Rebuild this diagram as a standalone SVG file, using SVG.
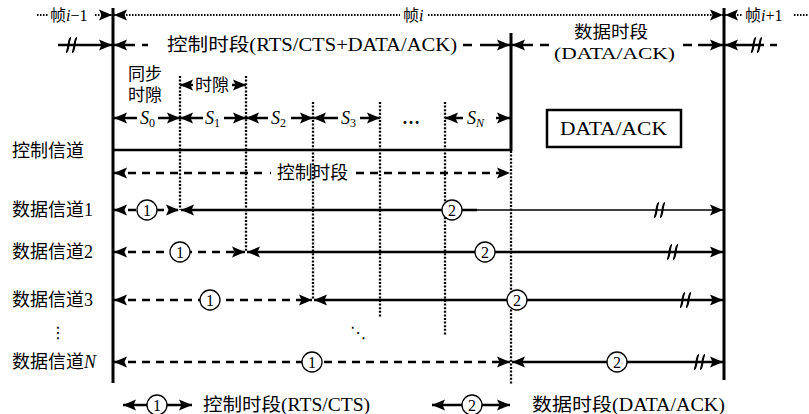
<svg xmlns="http://www.w3.org/2000/svg" width="809" height="414" viewBox="0 0 809 414">
<style>
.t{font-family:"Liberation Serif","Noto Sans CJK SC",serif;font-size:18px;fill:#000}
.s16{font-size:16px}
.s17{font-size:17px}
.it{font-style:italic}
.sub{font-size:12px}
.th{stroke:#000;stroke-width:2.5;fill:none}
.tn{stroke:#000;stroke-width:1.5;fill:none}
.da{stroke:#000;stroke-width:2.5;stroke-dasharray:8 6;fill:none}
.dot{stroke:#000;stroke-width:2.3;stroke-dasharray:2 1.6;fill:none}
.td{stroke:#000;stroke-width:2;stroke-dasharray:1.5 1.5;fill:none}
.ax{stroke:#000;stroke-width:3;fill:none}
.ci{fill:#fff;stroke:#000;stroke-width:1.3}
.num{font-family:"Liberation Serif",serif;font-size:16px;text-anchor:middle;fill:#000}
.brk{stroke:#000;stroke-width:2.2;fill:none}
.m{font-family:"DejaVu Sans",sans-serif;font-size:16px;fill:#000}
</style>
<defs>
<marker id="a" markerUnits="userSpaceOnUse" markerWidth="14" markerHeight="12" viewBox="0 -6 14 12" refX="13" refY="0" orient="auto-start-reverse"><path d="M0,-5.5 L13,0 L0,5.5 L2.5,0 z" fill="#000"/></marker>
<path id="brk" class="brk" d="M-6,7 C-3,7 -4,-7 -1,-7 M0,7 C3,7 2,-7 5,-7"/>
</defs>

<g id="axes">
<line class="ax" x1="113" y1="8" x2="113" y2="383"/>
<line class="ax" x1="511" y1="33" x2="511" y2="151"/>
<line class="ax" x1="724" y1="8" x2="724" y2="380"/>
</g>

<g id="gridlines">
<line class="dot" x1="180" y1="76" x2="180" y2="210"/>
<line class="dot" x1="246" y1="76" x2="246" y2="252"/>
<line class="dot" x1="313" y1="102" x2="313" y2="300"/>
<line class="dot" x1="380" y1="102" x2="380" y2="318"/>
<line class="dot" x1="445" y1="102" x2="445" y2="335"/>
<line class="dot" x1="511" y1="151" x2="511" y2="385"/>
</g>

<g id="connectors">
<line class="td" x1="37" y1="15" x2="48" y2="15"/>
<line class="td" x1="95" y1="15" x2="112" y2="15" marker-end="url(#a)"/>
<line class="td" x1="114" y1="15" x2="400" y2="15" marker-start="url(#a)"/>
<line class="td" x1="428" y1="15" x2="723" y2="15" marker-end="url(#a)"/>
<line class="td" x1="725" y1="15" x2="742" y2="15" marker-start="url(#a)"/>
<line class="td" x1="794" y1="15" x2="809" y2="15"/>
<line class="th" x1="58" y1="45" x2="112" y2="45" marker-end="url(#a)"/>
<use href="#brk" x="72" y="45"/>
<line class="th" x1="114" y1="45" x2="135" y2="45" marker-start="url(#a)"/>
<line class="th" x1="142" y1="45" x2="148" y2="45"/>
<line class="th" x1="463" y1="45" x2="472" y2="45"/>
<line class="th" x1="480" y1="45" x2="510" y2="45" marker-end="url(#a)"/>
<line class="th" x1="512" y1="45" x2="533" y2="45" marker-start="url(#a)"/>
<line class="th" x1="540" y1="45" x2="549" y2="45"/>
<line class="th" x1="683" y1="45" x2="692" y2="45"/>
<line class="th" x1="698" y1="45" x2="723" y2="45" marker-end="url(#a)"/>
<line class="th" x1="725" y1="45" x2="764" y2="45" marker-start="url(#a)"/>
<use href="#brk" x="757" y="45"/>
<line class="th" x1="770" y1="45" x2="777" y2="45"/>
<line class="th" x1="180" y1="85" x2="193" y2="85" marker-start="url(#a)"/>
<line class="th" x1="232" y1="85" x2="246" y2="85" marker-end="url(#a)"/>
<line class="th" x1="114" y1="118" x2="137" y2="118" marker-start="url(#a)"/>
<line class="th" x1="158" y1="118" x2="180" y2="118" marker-end="url(#a)"/>
<line class="th" x1="180" y1="118" x2="203" y2="118" marker-start="url(#a)"/>
<line class="th" x1="224" y1="118" x2="246" y2="118" marker-end="url(#a)"/>
<line class="th" x1="246" y1="118" x2="268" y2="118" marker-start="url(#a)"/>
<line class="th" x1="291" y1="118" x2="313" y2="118" marker-end="url(#a)"/>
<line class="th" x1="313" y1="118" x2="338" y2="118" marker-start="url(#a)"/>
<line class="th" x1="360" y1="118" x2="380" y2="118" marker-end="url(#a)"/>
<line class="th" x1="445" y1="118" x2="463" y2="118" marker-start="url(#a)"/>
<line class="th" x1="496" y1="118" x2="510" y2="118" marker-end="url(#a)"/>
<line class="th" x1="113" y1="150" x2="512" y2="150"/>
<line class="da" x1="114" y1="173" x2="265" y2="173" marker-start="url(#a)"/>
<line class="th" x1="270" y1="173" x2="271" y2="173"/>
<line class="da" x1="356" y1="173" x2="510" y2="173" marker-end="url(#a)"/>
<line class="da" x1="114" y1="210" x2="179" y2="210" marker-start="url(#a)" marker-end="url(#a)"/>
<line class="th" x1="181" y1="210" x2="477" y2="210" marker-start="url(#a)"/>
<line class="tn" x1="477" y1="210" x2="723" y2="210" marker-end="url(#a)"/>
<use href="#brk" x="660" y="210"/>
<line class="da" x1="114" y1="252" x2="245" y2="252" marker-start="url(#a)" marker-end="url(#a)"/>
<line class="th" x1="247" y1="252" x2="723" y2="252" marker-start="url(#a)" marker-end="url(#a)"/>
<use href="#brk" x="673" y="252"/>
<line class="da" x1="114" y1="300" x2="312" y2="300" marker-start="url(#a)" marker-end="url(#a)"/>
<line class="th" x1="314" y1="300" x2="723" y2="300" marker-start="url(#a)" marker-end="url(#a)"/>
<use href="#brk" x="686" y="300"/>
<line class="da" x1="114" y1="362" x2="510" y2="362" marker-start="url(#a)" marker-end="url(#a)"/>
<line class="th" x1="512" y1="362" x2="723" y2="362" marker-start="url(#a)" marker-end="url(#a)"/>
<use href="#brk" x="700" y="362"/>
<line class="th" x1="123" y1="405" x2="192" y2="405" marker-start="url(#a)" marker-end="url(#a)"/>
<line class="th" x1="432" y1="405" x2="510" y2="405" marker-start="url(#a)" marker-end="url(#a)"/>
</g>

<g id="circles">
<g id="c1-ch1"><circle class="ci" cx="147" cy="210" r="10"/><text class="num" x="147" y="215.5">1</text></g>
<g id="c2-ch1"><circle class="ci" cx="452" cy="210" r="10"/><text class="num" x="452" y="215.5">2</text></g>
<g id="c1-ch2"><circle class="ci" cx="180" cy="252" r="10"/><text class="num" x="180" y="257.5">1</text></g>
<g id="c2-ch2"><circle class="ci" cx="485" cy="252" r="10"/><text class="num" x="485" y="257.5">2</text></g>
<g id="c1-ch3"><circle class="ci" cx="210" cy="300" r="10"/><text class="num" x="210" y="305.5">1</text></g>
<g id="c2-ch3"><circle class="ci" cx="517" cy="300" r="10"/><text class="num" x="517" y="305.5">2</text></g>
<g id="c1-chN"><circle class="ci" cx="312" cy="362" r="10"/><text class="num" x="312" y="367.5">1</text></g>
<g id="c2-chN"><circle class="ci" cx="617" cy="362" r="10"/><text class="num" x="617" y="367.5">2</text></g>
<g id="c1-legend"><circle class="ci" cx="157" cy="405" r="10"/><text class="num" x="157" y="410.5">1</text></g>
<g id="c2-legend"><circle class="ci" cx="472" cy="405" r="10"/><text class="num" x="472" y="410.5">2</text></g>
</g>

<g id="frame-labels">
<text class="t s16" x="50" y="21">帧<tspan class="it">i</tspan>−1</text>
<text class="t s16" x="403" y="21">帧<tspan class="it">i</tspan></text>
<text class="t s16" x="745" y="21">帧<tspan class="it">i</tspan>+1</text>
</g>

<g id="period-labels">
<text class="t" x="167" y="51" textLength="290" lengthAdjust="spacingAndGlyphs">控制时段(RTS/CTS+DATA/ACK)</text>
<text class="t s17" x="574" y="38" textLength="74" lengthAdjust="spacingAndGlyphs">数据时段</text>
<text class="t s17" x="554" y="59" textLength="121" lengthAdjust="spacingAndGlyphs">(DATA/ACK)</text>
</g>

<g id="sync-slot">
<text class="t s17" x="128" y="80">同步</text>
<text class="t s17" x="128" y="101">时隙</text>
</g>
<g id="slot-label"><text class="t s17" x="195" y="91">时隙</text></g>

<g id="slots">
<text class="t it" x="140" y="124">S<tspan class="sub" font-style="normal" dy="3">0</tspan></text>
<text class="t it" x="205" y="124">S<tspan class="sub" font-style="normal" dy="3">1</tspan></text>
<text class="t it" x="271" y="124">S<tspan class="sub" font-style="normal" dy="3">2</tspan></text>
<text class="t it" x="341" y="124">S<tspan class="sub" font-style="normal" dy="3">3</tspan></text>
<text class="t" x="402" y="124" font-size="22" font-weight="bold">…</text>
<text class="t it" x="467" y="124">S<tspan class="sub" dy="3">N</tspan></text>
</g>

<g id="data-ack-box">
<rect x="547" y="110" width="134" height="37" fill="none" stroke="#000" stroke-width="2.5"/>
<text class="t" x="560" y="135" textLength="107" lengthAdjust="spacingAndGlyphs">DATA/ACK</text>
</g>

<g id="channel-labels">
<text class="t" x="12" y="157">控制信道</text>
<text class="t" x="277" y="179" textLength="71" lengthAdjust="spacingAndGlyphs">控制时段</text>
<text class="t" x="12" y="216">数据信道1</text>
<text class="t" x="12" y="258">数据信道2</text>
<text class="t" x="12" y="306">数据信道3</text>
<text class="m" x="50" y="338">⋮</text>
<text class="m" x="350" y="338">⋱</text>
<text class="t" x="12" y="368">数据信道<tspan class="it">N</tspan></text>
</g>

<g id="legend">
<text class="t" x="203" y="411" textLength="167" lengthAdjust="spacingAndGlyphs">控制时段(RTS/CTS)</text>
<text class="t" x="532" y="411" textLength="193" lengthAdjust="spacingAndGlyphs">数据时段(DATA/ACK)</text>
</g>
</svg>
